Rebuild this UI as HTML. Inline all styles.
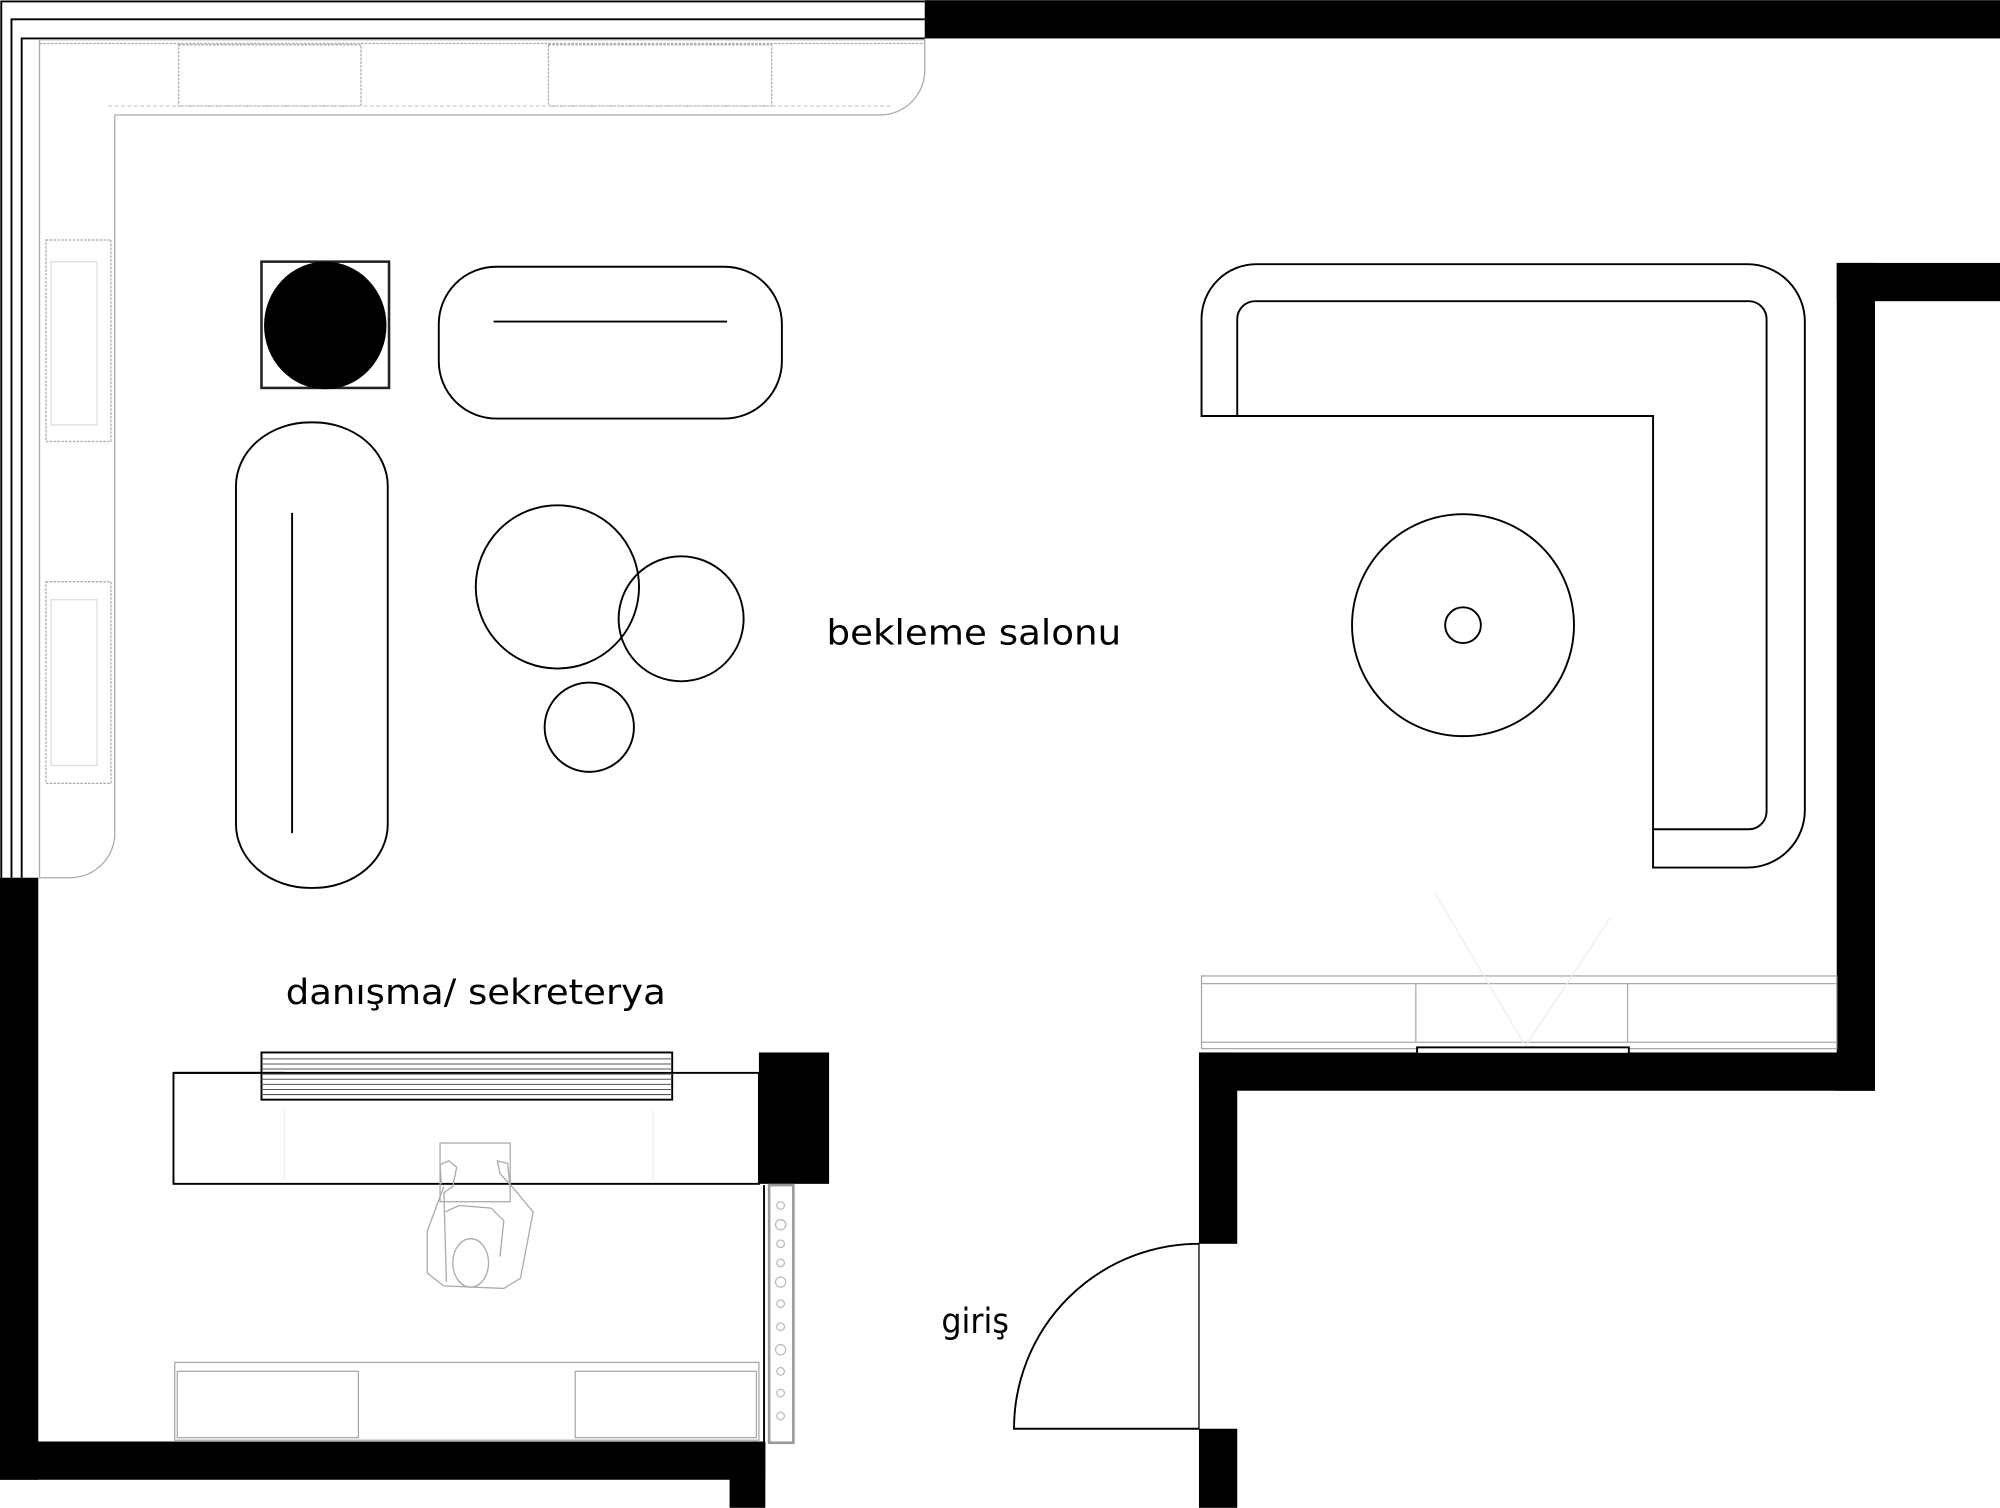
<!DOCTYPE html>
<html><head><meta charset="utf-8"><style>html,body{margin:0;padding:0;background:#fff}svg{display:block}</style></head>
<body>
<svg width="2000" height="1508" viewBox="0 0 1568 1182" xmlns="http://www.w3.org/2000/svg">
<rect width="1568" height="1182" fill="#fff"/>
<g fill="#000">
<rect x="725" y="0" width="843" height="30"/>
<rect x="1440" y="206" width="128" height="30"/>
<rect x="1440" y="206" width="30" height="649"/>
<rect x="940" y="825" width="530" height="30"/>
<rect x="940" y="825" width="30" height="150"/>
<rect x="940" y="1120" width="30" height="62"/>
<rect x="0" y="688" width="30" height="472"/>
<rect x="0" y="1130" width="600" height="30"/>
<rect x="572" y="1130" width="28" height="52"/>
<rect x="595" y="825" width="55" height="103"/>
</g>
<g fill="none" stroke="#000" stroke-width="1.5">
<polyline points="1,688 1,1 725,1"/>
<polyline points="9,688 9,15 725,15"/>
<polyline points="17,688 17,30 725,30"/>
</g>
<!-- gray cabinets -->
<g fill="none" stroke="#aaa" stroke-width="1">
<path d="M31,31 H725 V55 A35,35 0 0 1 690,90 H90 V653 A35,35 0 0 1 55,688 H31 Z"/>
<rect x="140" y="35" width="143" height="48" stroke-dasharray="2,1"/>
<rect x="430" y="35" width="175" height="48" stroke-dasharray="2,1"/>
<line x1="85" y1="83" x2="700" y2="83" stroke-dasharray="3,2" stroke="#ccc"/>
<line x1="31" y1="34" x2="725" y2="34" stroke-dasharray="2,1"/>
<rect x="36" y="188" width="51" height="158" stroke-dasharray="2,1"/>
<rect x="40" y="205" width="36" height="128" stroke="#ddd"/>
<rect x="36" y="456" width="51" height="158" stroke-dasharray="2,1"/>
<rect x="40" y="470" width="36" height="130" stroke="#ddd"/>
<!-- bottom right cabinets -->
<rect x="942" y="765" width="498" height="57"/>
<line x1="942" y1="771" x2="1440" y2="771"/>
<line x1="942" y1="817" x2="1440" y2="817"/>
<line x1="1110" y1="771" x2="1110" y2="817"/>
<line x1="1276" y1="771" x2="1276" y2="817"/>
<line x1="1125" y1="700" x2="1196" y2="820" stroke="#eee"/>
<line x1="1196" y1="820" x2="1262" y2="720" stroke="#eee"/>
<!-- bottom left cabinets -->
<rect x="137" y="1068" width="458" height="61"/>
<rect x="139" y="1075" width="142" height="52"/>
<rect x="451" y="1075" width="142" height="52"/>
<line x1="223" y1="870" x2="223" y2="925" stroke="#eee"/>
<line x1="512" y1="870" x2="512" y2="925" stroke="#eee"/>
<line x1="527" y1="841" x2="595" y2="841"/>
</g>
<rect x="603" y="929" width="19" height="202" fill="none" stroke="#999" stroke-width="2"/>
<line x1="599" y1="929" x2="599" y2="1131" stroke="#000" stroke-width="1.5"/>
<g fill="none" stroke="#bbb" stroke-width="1">
<circle cx="612" cy="945" r="3"/><circle cx="612" cy="960" r="4"/><circle cx="612" cy="975" r="3"/><circle cx="612" cy="990" r="3"/><circle cx="612" cy="1005" r="4"/><circle cx="612" cy="1022" r="3"/><circle cx="612" cy="1040" r="3"/><circle cx="612" cy="1058" r="4"/><circle cx="612" cy="1075" r="3"/><circle cx="612" cy="1092" r="3"/><circle cx="612" cy="1110" r="3"/>
</g>
<!-- furniture -->
<rect x="205" y="205" width="100" height="99" fill="none" stroke="#222" stroke-width="2"/>
<ellipse cx="255" cy="255" rx="48" ry="50" fill="#000"/>
<g fill="none" stroke="#000" stroke-width="1.5">
<rect x="344" y="209" width="269" height="119" rx="45" ry="45"/>
<line x1="387" y1="252" x2="570" y2="252"/>
<rect x="185" y="331" width="119" height="365" rx="58" ry="50"/>
<line x1="229" y1="402" x2="229" y2="653"/>
<circle cx="437" cy="460" r="64"/>
<circle cx="534" cy="485" r="49"/>
<circle cx="462" cy="570" r="35"/>
<path d="M942,326 V250 A43,43 0 0 1 985,207 H1370 A45,45 0 0 1 1415,252 V635 A45,45 0 0 1 1370,680 H1296 V326 Z"/>
<path d="M970,326 V250 A14,14 0 0 1 984,236 H1371 A14,14 0 0 1 1385,250 V636 A14,14 0 0 1 1371,650 H1296"/>
<circle cx="1147" cy="490" r="87"/>
<circle cx="1147" cy="490" r="14"/>
<rect x="136" y="841" width="459" height="87"/>
<rect x="205" y="825" width="322" height="37"/>
<line x1="136" y1="841" x2="223" y2="841"/>
<path d="M940,975 A145,145 0 0 0 795,1120 H940"/>
<rect x="1111" y="821" width="166" height="5" fill="#fff"/>
</g>
<line x1="940" y1="975" x2="940" y2="1120" stroke="#000" stroke-width="1"/>
<g stroke="#555" stroke-width="0.8">
<line x1="205" y1="830" x2="527" y2="830"/><line x1="205" y1="834" x2="527" y2="834"/><line x1="205" y1="838" x2="527" y2="838"/><line x1="205" y1="842" x2="527" y2="842"/><line x1="205" y1="846" x2="527" y2="846"/><line x1="205" y1="850" x2="527" y2="850"/><line x1="205" y1="854" x2="527" y2="854"/><line x1="205" y1="858" x2="527" y2="858"/>
</g>
<!-- person -->
<g fill="none" stroke="#aaa" stroke-width="1">
<rect x="345" y="896" width="55" height="46"/>
<path d="M348,930 L335,965 L335,998 L348,1008 L395,1010 L408,1002 L418,950 L403,932 L392,920 L390,910 L398,912 L400,932"/>
<path d="M350,1005 L348,935 L355,930 L358,915 L352,910 L345,913 L346,928"/>
<path d="M349,950 L360,945 L385,947 L395,957 L392,985"/>
<ellipse cx="369" cy="990" rx="14" ry="19"/>
</g>
<g font-family="'DejaVu Sans','Liberation Sans',sans-serif" font-size="27" fill="#000">
<text x="648" y="505" textLength="231" lengthAdjust="spacingAndGlyphs">bekleme salonu</text>
<text x="224" y="787" textLength="298" lengthAdjust="spacingAndGlyphs">danışma/ sekreterya</text>
<text x="738" y="1045" textLength="53" lengthAdjust="spacingAndGlyphs">giriş</text>
</g>
</svg>
</body></html>
